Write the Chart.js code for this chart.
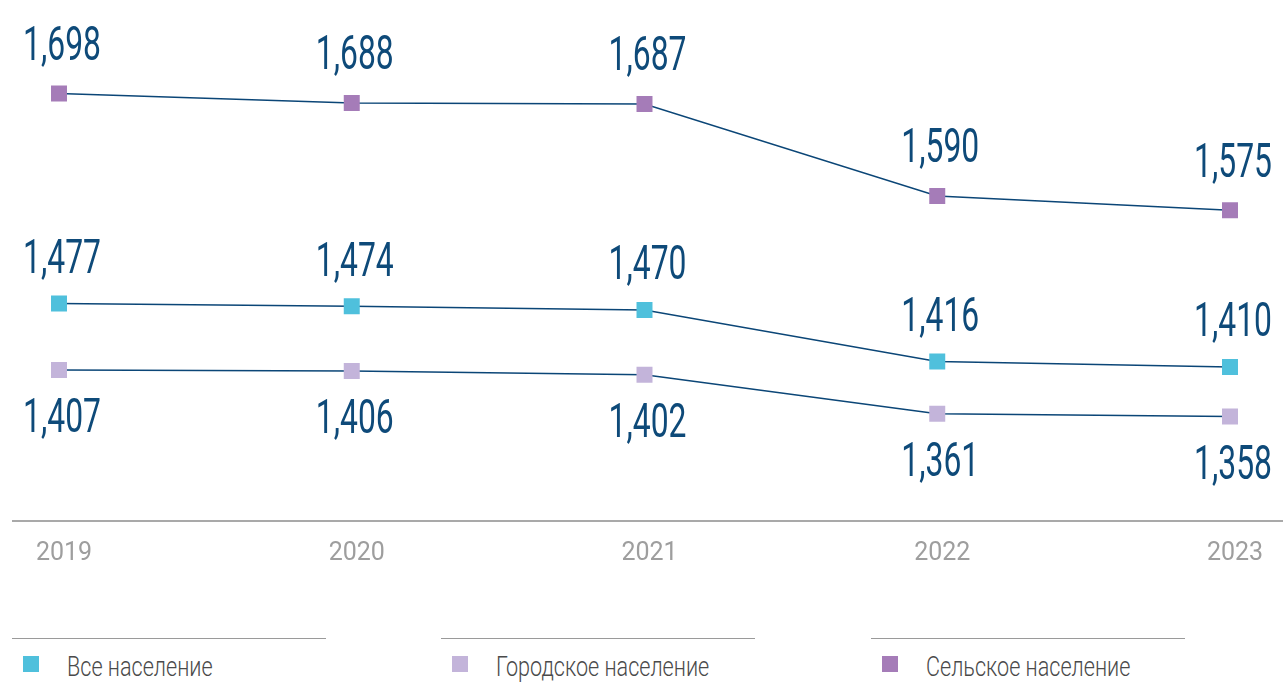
<!DOCTYPE html>
<html>
<head>
<meta charset="utf-8">
<script src="https://cdn.jsdelivr.net/npm/chart.js@4"></script>
<style>
  body { margin: 0; background: #fff; }
  #wrap { position: relative; width: 1283px; height: 682px; }
  #chart { position: absolute; left: 0; top: 0; }
  .lg { position: absolute; top: 638px; width: 314px; height: 40px; border-top: 1.5px solid #9a9a9a; }
  .lg .mk { position: absolute; left: 11px; top: 17px; width: 16px; height: 16px; }
  .lg .tx { position: absolute; left: 55px; top: 13px; font: 300 27px Roboto, sans-serif; color: #4a4a4a;
            transform: scaleX(0.8); transform-origin: left center; white-space: nowrap; line-height: 30px; }
</style>
</head>
<body>
<div id="wrap">
  <canvas id="chart" width="1283" height="580"></canvas>
  <div id="legend"></div>
</div>
<script>
const years = ["2019", "2020", "2021", "2022", "2023"];
const allPopulation = [1477, 1474, 1470, 1416, 1410];
const urbanPopulation = [1407, 1406, 1402, 1361, 1358];
const ruralPopulation = [1698, 1688, 1687, 1590, 1575];
const seriesNames = ["Все население", "Городское население", "Сельское население"];

const lineColor = "#0b4677";
const labelColor = "#0e4a79";

// value labels drawn next to each marker
const valueLabels = {
    id: "valueLabels",
    afterDatasetsDraw(chart) {
        const ctx = chart.ctx;
        chart.data.datasets.forEach((ds, i) => {
            const meta = chart.getDatasetMeta(i);
            meta.data.forEach((pt, j) => {
                ctx.save();
                ctx.translate(pt.x + 3, pt.y + ds.labelShift);
                ctx.scale(0.65, 1);
                ctx.font = "400 49px Roboto";
                ctx.fillStyle = labelColor;
                ctx.textAlign = "center";
                ctx.textBaseline = "middle";
                ctx.fillText(ds.data[j].toLocaleString("en-US"), 0, 0);
                ctx.restore();
            });
        });
    }
};

// long baseline under the plot
const baseLine = {
    id: "baseLine",
    beforeDatasetsDraw(chart) {
        const ctx = chart.ctx;
        const y = chart.chartArea.bottom;
        ctx.save();
        ctx.strokeStyle = "#8c8c8c";
        ctx.lineWidth = 1.5;
        ctx.beginPath();
        ctx.moveTo(12, y);
        ctx.lineTo(chart.width, y);
        ctx.stroke();
        ctx.restore();
    }
};

const ctx = document.getElementById("chart").getContext("2d");
const chart = new Chart(ctx, {
    type: "line",
    data: {
        labels: years,
        datasets: [
            {
                label: seriesNames[2],
                data: ruralPopulation,
                borderColor: lineColor,
                borderWidth: 1.5,
                pointStyle: "rect",
                pointRadius: 11.3,
                pointBorderWidth: 0,
                pointBackgroundColor: "#a57cb8",
                labelShift: -46
            },
            {
                label: seriesNames[0],
                data: allPopulation,
                borderColor: lineColor,
                borderWidth: 1.5,
                pointStyle: "rect",
                pointRadius: 11.3,
                pointBorderWidth: 0,
                pointBackgroundColor: "#4fc0dc",
                labelShift: -43
            },
            {
                label: seriesNames[1],
                data: urbanPopulation,
                borderColor: lineColor,
                borderWidth: 1.5,
                pointStyle: "rect",
                pointRadius: 11.3,
                pointBorderWidth: 0,
                pointBackgroundColor: "#c3b4da",
                labelShift: 50
            }
        ]
    },
    options: {
        responsive: false,
        animation: false,
        layout: { padding: { left: 59, right: 53, top: 0, bottom: 0 } },
        plugins: {
            legend: { display: false },
            tooltip: { enabled: false }
        },
        scales: {
            x: {
                grid: { display: false },
                border: { display: false },
                ticks: {
                    color: "#9e9e9e",
                    font: { family: "Roboto", size: 25 },
                    padding: 10,
                    labelOffset: 5
                },
                afterFit: (scale) => { scale.height = 59; }
            },
            y: {
                display: false,
                min: 1248,
                max: 1784.5
            }
        }
    },
    plugins: [baseLine, valueLabels]
});

// legend under the chart
const legendOrder = [1, 2, 0];
const legendLeft = [12, 441, 871];
const legend = document.getElementById("legend");
legendOrder.forEach((dsIndex, k) => {
    const ds = chart.data.datasets[dsIndex];
    const item = document.createElement("div");
    item.className = "lg";
    item.style.left = legendLeft[k] + "px";
    item.innerHTML = '<div class="mk" style="background:' + ds.pointBackgroundColor + '"></div>' +
                     '<div class="tx">' + ds.label + '</div>';
    legend.appendChild(item);
});
</script>
</body>
</html>
